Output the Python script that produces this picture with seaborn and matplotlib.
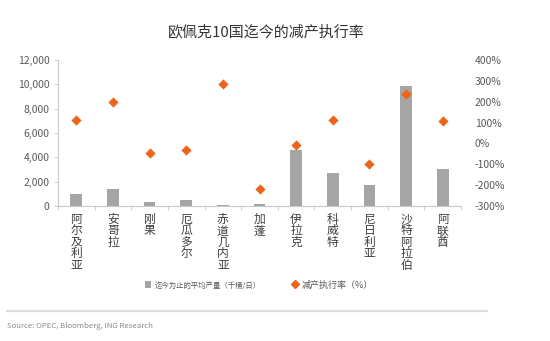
import matplotlib
matplotlib.use("Agg")
import matplotlib.pyplot as plt
from matplotlib.lines import Line2D
from matplotlib.patches import Patch
from matplotlib.ticker import FuncFormatter, MultipleLocator
import seaborn as sns
import pandas as pd

# OPEC-10 output and cut compliance
countries = ["阿尔及利亚", "安哥拉", "刚果", "厄瓜多尔", "赤道几内亚", "加蓬",
             "伊拉克", "科威特", "尼日利亚", "沙特阿拉伯", "阿联酋"]
avg_output = [1000, 1400, 300, 480, 100, 190, 4630, 2690, 1730, 9860, 3040]   # kb/d
compliance = [112, 197, -47, -32, 283, -220, -9, 112, -100, 235, 107]          # %

title = "欧佩克10国迄今的减产执行率"
bar_label = "迄今为止的平均产量（千桶/日）"
dot_label = "减产执行率（%）"
source = "Source: OPEC, Bloomberg, ING Research"

BAR = "#a5a5a5"
ORANGE = "#ec6418"
TXT = "#595959"

sns.set_theme(style="white")
plt.rcParams["font.family"] = ["Noto Sans CJK SC", "DejaVu Sans"]

df = pd.DataFrame({"country": countries, "output": avg_output, "rate": compliance})

fig = plt.figure(figsize=(5.5, 3.41), dpi=100)
ax = fig.add_axes([58 / 550, 1 - 206 / 341, (461 - 58) / 550, (206 - 60) / 341])

sns.barplot(data=df, x="country", y="output", color=BAR, width=0.32,
            saturation=1, ax=ax, edgecolor="none")
ax.set_ylim(0, 12000)
ax.yaxis.set_major_locator(MultipleLocator(2000))
ax.yaxis.set_major_formatter(FuncFormatter(lambda v, p: f"{v:,.0f}"))
ax.set_xlabel("")
ax.set_ylabel("")

ax2 = ax.twinx()
sns.stripplot(data=df, x="country", y="rate", ax=ax2, jitter=False,
              marker="D", color=ORANGE, size=5.2, linewidth=0)
ax2.set_ylim(-300, 400)
ax2.yaxis.set_major_locator(MultipleLocator(100))
ax2.yaxis.set_major_formatter(FuncFormatter(lambda v, p: f"{v:.0f}%"))
ax2.set_ylabel("")
ax2.set_xlabel("")
ax2.set_xlim(-0.5, len(countries) - 0.5)
ax.set_xlim(-0.5, len(countries) - 0.5)

for a in (ax, ax2):
    for s in a.spines.values():
        s.set_visible(False)

ax.spines["left"].set_visible(True)
ax.spines["left"].set_color("#c8c8c8")
ax.spines["left"].set_linewidth(0.8)
ax.spines["bottom"].set_visible(True)
ax.spines["bottom"].set_color("#c8c8c8")
ax.spines["bottom"].set_linewidth(0.8)

ax.tick_params(axis="y", left=True, length=3, width=0.6, color="#c8c8c8",
               labelsize=7.5, labelcolor=TXT, pad=3)
ax2.tick_params(axis="y", right=False, length=0, labelsize=7.5,
                labelcolor=TXT, pad=10)

# vertical, one-character-per-line category labels
ax.set_xticks(range(len(countries)))
ax.set_xticklabels(["\n".join(c) for c in countries], fontsize=8.5,
                   color="#404040", linespacing=0.85, va="top")
ax.set_xticks([i + 0.5 for i in range(-1, len(countries))], minor=True)
ax.tick_params(axis="x", which="major", bottom=False, pad=-1)
ax.tick_params(axis="x", which="minor", bottom=True, length=3, width=0.6,
               color="#c8c8c8")

fig.text(266 / 550, 1 - 32 / 341, title, ha="center", va="center",
         fontsize=10.8, color="#333333")

handles = [Patch(facecolor=BAR, edgecolor="none", label=bar_label),
           Line2D([], [], marker="D", color=ORANGE, linestyle="none",
                  markersize=4, label=dot_label)]
leg = fig.legend(handles=handles, loc="center", ncol=2, frameon=False,
                 bbox_to_anchor=(259 / 550, 1 - 285 / 341),
                 handlelength=0.7, handleheight=0.7, handletextpad=0.4,
                 columnspacing=3.5, fontsize=6.5)
leg.get_texts()[0].set_fontsize(5.3)
for t in leg.get_texts():
    t.set_color(TXT)

fig.add_artist(Line2D([7 / 550, 487 / 550], [1 - 311 / 341] * 2,
                      color="#dcdcdc", lw=1.6))
fig.text(7 / 550, 1 - 326 / 341, source, ha="left", va="center",
         fontsize=5.6, color="#8a8a8a")

fig.savefig("out.png", dpi=100)
